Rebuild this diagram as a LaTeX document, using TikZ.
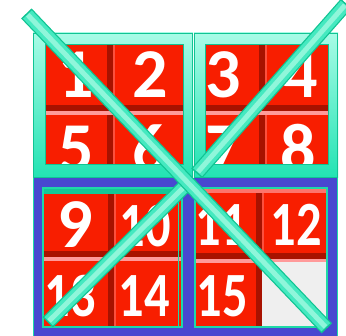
\documentclass[tikz,border=0pt]{standalone}
\usepackage{fontspec}
\usepackage{graphicx}
\newfontfamily\carl{Carlito}
\definecolor{blueC}{HTML}{4848D0}
\definecolor{greenL}{HTML}{1ED9A8}
\definecolor{mintT}{HTML}{A8FBE6}
\definecolor{mintB}{HTML}{22E3B3}
\definecolor{tealD}{HTML}{10C493}
\definecolor{tealM}{HTML}{45E9C0}
\definecolor{tealL}{HTML}{8FF6DA}
\definecolor{tred}{HTML}{F81E00}
\definecolor{tdark}{HTML}{A81200}
\definecolor{tpink}{HTML}{FF9A9A}
\definecolor{tgray}{HTML}{EFEFEF}
\newcommand\tilefill[6]{%
  \fill[tred] (#1,#2) rectangle (#3,#4);
  \fill[tdark] (#5-4,#2) rectangle (#5+2,#4);
  \fill[tred!60!tpink] (#5+2,#2) rectangle (#5+4,#4);
  \fill[tdark] (#1,#6-5) rectangle (#3,#6+1);
  \fill[tpink] (#1,#6+1) rectangle (#3,#6+5);
}
\newcommand\tealbar[2]{%
  \draw[tealD, line width=14.5pt, shorten <=-0.5pt, shorten >=-0.5pt] (#1)--(#2);
  \draw[tealM, line width=12pt, shorten <=1pt, shorten >=1pt] (#1)--(#2);
  \draw[tealL, line width=5pt, shorten <=1.5pt, shorten >=1.5pt] (#1)--(#2);
}
\begin{document}
\begin{tikzpicture}[x=1pt,y=-1pt,
  dig/.style={font={\carl\bfseries\fontsize{70}{70}\selectfont},text=white,inner sep=0pt},
  digb/.style={font={\carl\bfseries\fontsize{63}{63}\selectfont},text=white,inner sep=0pt}]
\useasboundingbox (0,0) rectangle (346,336);
\clip (0,0) rectangle (346,336);
\fill[white] (0,0) rectangle (346,336);
% blue lower frame
\fill[blueC] (33,178) rectangle (338,345);
\draw[greenL, line width=1.2pt] (33.6,178) -- (33.6,345);
\draw[greenL, line width=1.2pt] (337.4,178) -- (337.4,345);
% bottom-left quadrant
\begin{scope}
  \clip (43,188) rectangle (182,327);
  \tilefill{43}{188}{182}{327}{112}{256}
  \fill[tealD!80!greenL] (43,188) rectangle (182,194);
  \node[dig] (t9) at (75,225) {9};
  \node[digb] (t10) at (145,226) {\scalebox{0.8}[1]{10}};
  \node[digb] (t13) at (70,296) {\scalebox{0.8}[1]{13}};
  \node[digb] (t14) at (144,296) {\scalebox{0.8}[1]{14}};
\end{scope}
\draw[greenL, line width=1.5pt] (43,188) rectangle (182,327);
\draw[greenL, line width=1pt] (178,190) -- (178,327);
% bottom-right quadrant
\begin{scope}
  \clip (195,188) rectangle (327,327);
  \tilefill{195}{188}{327}{327}{260}{258}
  \fill[tpink!70!tred] (195,189) rectangle (327,193);
  \fill[tgray] (262,262) rectangle (327,327);
  \node[digb] (t11) at (221,225) {\scalebox{0.8}[1]{11}};
  \node[digb] (t12) at (296,225) {\scalebox{0.8}[1]{12}};
  \node[digb] (t15) at (222,296) {\scalebox{0.8}[1]{15}};
\end{scope}
\draw[greenL, line width=1.5pt] (195,188) rectangle (327,327);
% top-left green box
\shade[top color=mintT, bottom color=mintB] (33,33) rectangle (193,178);
\draw[tealD, line width=1pt] (33.5,33.5) rectangle (192.5,177.5);
\begin{scope}
  \clip (45,45) rectangle (183,165);
  \tilefill{45}{45}{183}{165}{111}{110}
  \node[dig] (t1) at (76,75) {1};
  \node[dig] (t2) at (150,75) {2};
  \node[dig] (t5) at (76,149) {5};
  \node[dig] (t6) at (150,149) {6};
\end{scope}
\draw[tealD, line width=1pt] (45,45) rectangle (183,165);
% top-right green box
\shade[top color=mintT, bottom color=mintB] (194,33) rectangle (338,178);
\draw[tealD, line width=1pt] (194.5,33.5) rectangle (337.5,177.5);
\begin{scope}
  \clip (205,45) rectangle (328,165);
  \tilefill{205}{45}{328}{165}{263}{110}
  \node[dig] (t3) at (223,75) {3};
  \node[dig] (t4) at (300,75) {4};
  \node[dig] (t7) at (223,149) {7};
  \node[dig] (t8) at (298,149) {8};
\end{scope}
\draw[tealD, line width=1pt] (205,45) rectangle (328,165);
% diagonal bars
\coordinate (a1) at (26.7,13.8);
\coordinate (b1) at (326.5,328);
\coordinate (a2) at (346,4);
\coordinate (b2) at (197,173);
\coordinate (a3) at (48,322);
\coordinate (b3) at (185,186);
\tealbar{a3}{b3}
\tealbar{a2}{b2}
\tealbar{a1}{b1}
\end{tikzpicture}
\end{document}
